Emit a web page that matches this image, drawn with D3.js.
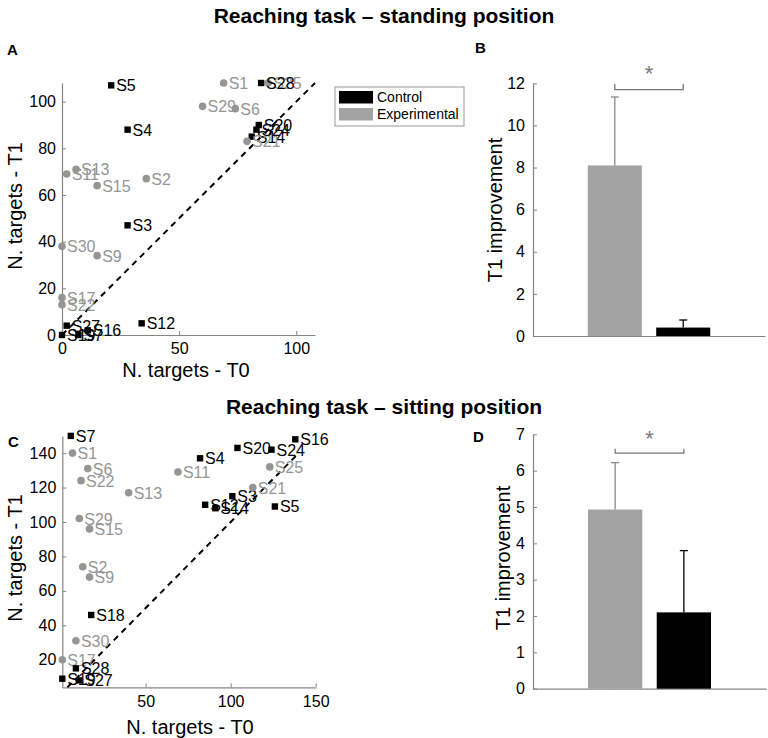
<!DOCTYPE html>
<html lang="en">
<head>
<meta charset="UTF-8" />
<title>Reaching task</title>
<script src="https://cdn.jsdelivr.net/npm/d3@7"></script>
<style>
  body { margin: 0; background: #fff; }
  text { font-family: "Liberation Sans", Arial, sans-serif; }
</style>
</head>
<body>
<script>
// Standing position - scatter (A)
const standIds = ["S1","S2","S3","S4","S5","S6","S7","S9","S11","S12","S13","S14","S15","S16","S17","S19","S20","S21","S22","S24","S25","S27","S28","S29","S30"];
const standT0  = [69, 36, 28, 28, 21, 74, 7, 15, 2, 34, 6, 81, 15, 11, 0, 0, 84, 79, 0, 83, 88, 2, 85, 60, 0];
const standT1  = [108, 67, 47, 88, 107, 97, 0, 34, 69, 5, 71, 85, 64, 2, 16, 0, 90, 83, 13, 88, 108, 4, 108, 98, 38];
const standGrp = ["E","E","C","C","C","E","C","E","E","C","E","C","E","C","E","C","C","E","E","C","E","C","C","E","E"];

// Sitting position - scatter (C)
const sitIds = ["S1","S2","S3","S4","S5","S6","S7","S9","S11","S12","S13","S14","S15","S16","S17","S18","S19","S20","S21","S22","S24","S25","S27","S28","S29","S30"];
const sitT0  = [7, 13, 101, 82, 126, 16, 6, 17, 69, 85, 40, 91, 17, 138, 1, 18, 1, 104, 113, 12, 124, 123, 11, 9, 11, 9];
const sitT1  = [140, 74, 115, 137, 109, 131, 150, 68, 129, 110, 117, 108, 96, 148, 20, 46, 9, 143, 120, 124, 142, 132, 8, 15, 102, 31];
const sitGrp = ["E","E","C","C","C","E","C","E","E","C","E","C","E","C","E","C","C","C","E","E","C","E","C","C","E","E"];

// Bars (B, D)
const barGroups = ["Experimental", "Control"];
const standMean = [8.1, 0.4];
const standErr  = [3.25, 0.36];
const sitMean   = [4.93, 2.1];
const sitErr    = [1.29, 1.7];

const legendLabels = ["Control", "Experimental"];

const gray = "#a3a3a3";
const grayText = "#959595";
const axisCol = "#858585";
const colorOf = g => g === "C" ? "#000" : grayText;

const svg = d3.select("body").append("svg")
  .attr("width", 768)
  .attr("height", 738);

function styleAxis(g) {
  g.selectAll(".domain").attr("stroke", axisCol).attr("stroke-width", 1.2);
  g.selectAll(".tick line").attr("stroke", axisCol);
  g.selectAll(".tick text").attr("fill", "#000").style("font-size", "16px")
    .style("font-family", "'Liberation Sans', Arial, sans-serif");
}

function scatter(ids, t0, t1, grp, x, y, xTicks, yTicks, lineEnd) {
  const g = svg.append("g");
  g.append("g").attr("transform", `translate(0,${y.range()[0]})`)
    .call(d3.axisBottom(x).tickValues(xTicks).tickSizeInner(-4).tickSizeOuter(0).tickPadding(8))
    .call(styleAxis);
  g.append("g").attr("transform", `translate(${x.range()[0]},0)`)
    .call(d3.axisLeft(y).tickValues(yTicks).tickSizeInner(-4).tickSizeOuter(0).tickPadding(6))
    .call(styleAxis);

  g.append("line")
    .attr("x1", x(lineEnd[0])).attr("y1", y(lineEnd[0]))
    .attr("x2", x(lineEnd[1])).attr("y2", y(lineEnd[1]))
    .attr("stroke", "#000").attr("stroke-width", 2)
    .attr("stroke-dasharray", "6,5");

  const pts = ids.map((id, i) => ({ id: id, x: t0[i], y: t1[i], g: grp[i] }));
  pts.forEach(d => {
    if (d.g === "C") {
      g.append("rect").attr("x", x(d.x) - 3.2).attr("y", y(d.y) - 3.2)
        .attr("width", 6.4).attr("height", 6.4).attr("fill", "#000");
    } else {
      g.append("circle").attr("cx", x(d.x)).attr("cy", y(d.y)).attr("r", 3.8)
        .attr("fill", grayText);
    }
    g.append("text").attr("x", x(d.x) + 5).attr("y", y(d.y) + 6)
      .attr("fill", colorOf(d.g)).style("font-size", "16px").text(d.id);
  });
  return g;
}

function bars(mean, err, x, y, yTicks, bracketY, starY) {
  const g = svg.append("g");
  g.append("g").attr("transform", `translate(0,${y.range()[0]})`)
    .call(d3.axisBottom(x).tickSizeInner(-3).tickSizeOuter(0).tickFormat(""))
    .call(styleAxis);
  g.append("g").attr("transform", `translate(${x.range()[0]},0)`)
    .call(d3.axisLeft(y).tickValues(yTicks).tickFormat(d3.format("d"))
      .tickSizeInner(-4).tickSizeOuter(0).tickPadding(8))
    .call(styleAxis);

  barGroups.forEach((k, i) => {
    const col = k === "Control" ? "#000" : gray;
    const cx = x(k) + x.bandwidth() / 2;
    g.append("rect").attr("x", x(k)).attr("y", y(mean[i]))
      .attr("width", x.bandwidth()).attr("height", y(0) - y(mean[i]))
      .attr("fill", col);
    const top = mean[i] + err[i];
    const ec = k === "Control" ? "#000" : "#8a8a8a";
    g.append("line").attr("x1", cx).attr("x2", cx).attr("y1", y(mean[i])).attr("y2", y(top))
      .attr("stroke", ec).attr("stroke-width", 1.3);
    g.append("line").attr("x1", cx - 4).attr("x2", cx + 4).attr("y1", y(top)).attr("y2", y(top))
      .attr("stroke", ec).attr("stroke-width", 1.3);
  });

  const c0 = x(barGroups[0]) + x.bandwidth() / 2;
  const c1 = x(barGroups[1]) + x.bandwidth() / 2;
  g.append("path")
    .attr("d", `M${c0},${y(bracketY[1])}V${y(bracketY[0])}H${c1}V${y(bracketY[1])}`)
    .attr("fill", "none").attr("stroke", "#777").attr("stroke-width", 1.3);
  g.append("text").attr("x", (c0 + c1) / 2).attr("y", y(starY) + 11)
    .attr("text-anchor", "middle").attr("fill", "#777").style("font-size", "22px").text("*");
  return g;
}

function yLabel(x, y, txt) {
  svg.append("text").attr("transform", `translate(${x},${y}) rotate(-90)`)
    .attr("text-anchor", "middle").style("font-size", "20px").text(txt);
}
function xLabel(x, y, txt) {
  svg.append("text").attr("x", x).attr("y", y)
    .attr("text-anchor", "middle").style("font-size", "20px").text(txt);
}
function panelLetter(x, y, txt) {
  svg.append("text").attr("x", x).attr("y", y)
    .style("font-size", "15px").style("font-weight", "bold").text(txt);
}
function title(y, txt) {
  svg.append("text").attr("x", 384).attr("y", y).attr("text-anchor", "middle")
    .style("font-size", "21px").style("font-weight", "bold").text(txt);
}

// ---- Top row: standing position
title(23, "Reaching task \u2013 standing position");

const xA = d3.scaleLinear().domain([0, 108]).range([62, 315]);
const yA = d3.scaleLinear().domain([0, 108]).range([335, 83]);
scatter(standIds, standT0, standT1, standGrp, xA, yA, [0, 50, 100], [0, 20, 40, 60, 80, 100], [0, 108]);
panelLetter(7, 55, "A");
yLabel(22, 206, "N. targets - T1");
xLabel(186, 377, "N. targets - T0");

const xB = d3.scaleBand().domain(barGroups).range([533, 765]).paddingInner(0.21).paddingOuter(0.8);
const yB = d3.scaleLinear().domain([0, 12]).range([336, 83.3]);
bars(standMean, standErr, xB, yB, d3.range(0, 13, 2), [11.7, 11.97], 12.65);
panelLetter(475, 53, "B");
yLabel(502, 210, "T1 improvement");

// legend
const lg = svg.append("g").attr("transform", "translate(335,87)");
lg.append("rect").attr("width", 129).attr("height", 39)
  .attr("fill", "#fff").attr("stroke", "#999").attr("stroke-width", 1);
legendLabels.forEach((k, i) => {
  lg.append("rect").attr("x", 4).attr("y", 4 + i * 17).attr("width", 34).attr("height", 12.5)
    .attr("fill", k === "Control" ? "#000" : gray);
  lg.append("text").attr("x", 42).attr("y", 15 + i * 17).style("font-size", "14px").text(k);
});

// ---- Bottom row: sitting position
title(414, "Reaching task \u2013 sitting position");

const xC = d3.scaleLinear().domain([1, 150]).range([62.3, 315.7]);
const yC = d3.scaleLinear().domain([4, 150]).range([687.3, 435.9]);
scatter(sitIds, sitT0, sitT1, sitGrp, xC, yC, [50, 100, 150], [20, 40, 60, 80, 100, 120, 140], [4, 140]);
panelLetter(8, 447, "C");
yLabel(22, 558, "N. targets - T1");
xLabel(190, 734, "N. targets - T0");

const xD = d3.scaleBand().domain(barGroups).range([533, 766]).paddingInner(0.21).paddingOuter(0.8);
const yD = d3.scaleLinear().domain([0, 7]).range([688.7, 434.3]);
bars(sitMean, sitErr, xD, yD, d3.range(0, 8, 1), [6.48, 6.6], 6.98);
panelLetter(473, 442, "D");
yLabel(510, 558, "T1 improvement");
</script>
</body>
</html>
